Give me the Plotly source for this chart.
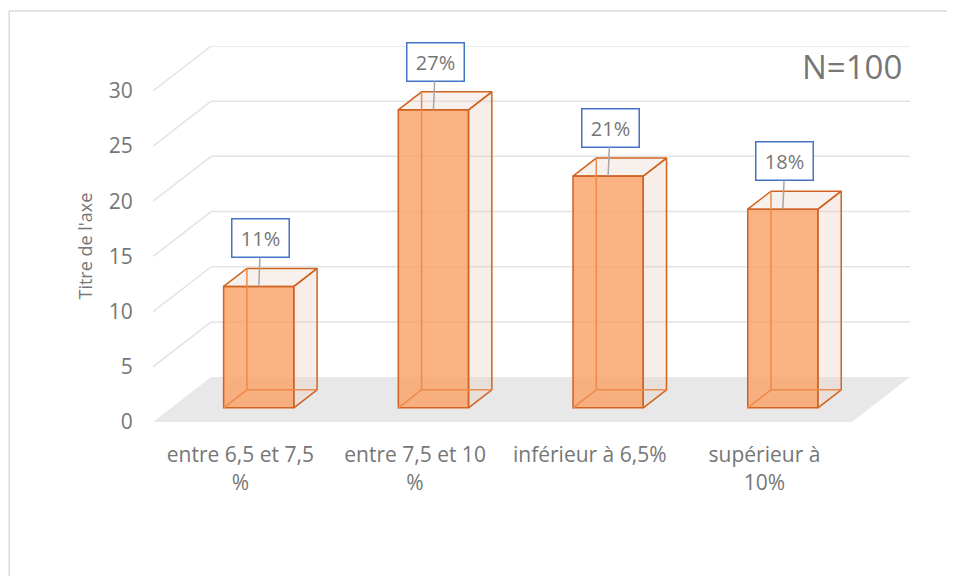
import plotly.graph_objects as go

categories = ["entre 6,5 et 7,5<br>%", "entre 7,5 et 10<br>%", "inférieur à 6,5%", "supérieur à<br>10%"]
counts = [11, 27, 21, 18]
y_ticks = [0, 5, 10, 15, 20, 25, 30]
n_total = 100

# Fake 3D depth (data units)
DEPTH_X = 0.333   # depth of the floor along x (category units)
DEPTH_Y = 4.07    # depth of the floor along y (value units)
FRONT = 0.316     # front face of the bars, fraction of depth
BACK = 0.716      # back face of the bars, fraction of depth
BAR_W = 0.402

EDGE = '#D0631F'
TEXT = '#767676'

def draw_walls(n_cat: int, ticks: list) -> list[dict]:
    x0, x1 = -0.5, n_cat - 0.5
    shapes = []

    # 1. Floor
    shapes.append(dict(
        type='path', xref='x', yref='y', layer='below',
        path=f"M {x0},0 L {x1},0 L {x1 + DEPTH_X},{DEPTH_Y} L {x0 + DEPTH_X},{DEPTH_Y} Z",
        fillcolor='#E8E8E8', line=dict(width=0)
    ))

    # 2. Side wall + back wall grid
    for t in ticks[1:]:
        shapes.append(dict(
            type='line', xref='x', yref='y', layer='below',
            x0=x0, y0=t, x1=x0 + DEPTH_X, y1=t + DEPTH_Y,
            line=dict(color='#E3E3E3', width=1.5)
        ))
        shapes.append(dict(
            type='line', xref='x', yref='y', layer='below',
            x0=x0 + DEPTH_X, y0=t + DEPTH_Y, x1=x1 + DEPTH_X, y1=t + DEPTH_Y,
            line=dict(color='#E3E3E3', width=1.5)
        ))

    # chart area border
    shapes.append(dict(
        type='rect', xref='paper', yref='paper', layer='below',
        x0=-0.19, y0=-0.5, x1=1.2, y1=1.093,
        line=dict(color='#D9D9D9', width=1.5)
    ))
    return shapes

def draw_bar_faces(xs: list, vals: list) -> list[go.Scatter]:
    sx, sy, tx, ty, bx, by = [], [], [], [], [], []
    ddx = (BACK - FRONT) * DEPTH_X
    ddy = (BACK - FRONT) * DEPTH_Y
    for x, v in zip(xs, vals):
        xl, xr = x - BAR_W / 2, x + BAR_W / 2
        yb, yt = FRONT * DEPTH_Y, FRONT * DEPTH_Y + v
        # right side
        sx.extend([xr, xr + ddx, xr + ddx, xr, xr, None])
        sy.extend([yb, yb + ddy, yt + ddy, yt, yb, None])
        # top
        tx.extend([xl, xr, xr + ddx, xl + ddx, xl, None])
        ty.extend([yt, yt, yt + ddy, yt + ddy, yt, None])
        # hidden edges, seen through the front face
        bx.extend([xl, xl + ddx, xl + ddx, None, xl + ddx, xr + ddx, None])
        by.extend([yb, yb + ddy, yt + ddy, None, yb + ddy, yb + ddy, None])

    side_trace = go.Scatter(
        x=sx, y=sy, mode='lines', fill='toself',
        fillcolor='rgba(232,205,192,0.35)', line=dict(color=EDGE, width=1.5),
        showlegend=False, hoverinfo='skip'
    )
    top_trace = go.Scatter(
        x=tx, y=ty, mode='lines', fill='toself',
        fillcolor='rgba(232,205,192,0.3)', line=dict(color=EDGE, width=1.5),
        showlegend=False, hoverinfo='skip'
    )
    hidden_trace = go.Scatter(
        x=bx, y=by, mode='lines', line=dict(color='#EE8A4A', width=1.5),
        showlegend=False, hoverinfo='skip'
    )
    return [side_trace, top_trace, hidden_trace]

def create_bar3d_plot(cats: list, vals: list, ticks: list, total: int) -> go.Figure:
    fig = go.Figure()
    xs = [i + FRONT * DEPTH_X for i in range(len(cats))]

    # Front faces of the bars
    fig.add_trace(go.Bar(
        x=xs, y=vals, base=FRONT * DEPTH_Y, width=BAR_W,
        marker=dict(color='rgba(250,160,100,0.8)', line=dict(color=EDGE, width=1.5)),
        showlegend=False, hoverinfo='skip'
    ))
    for trace in draw_bar_faces(xs, vals):
        fig.add_trace(trace)

    # Data labels
    for x, v in zip(xs, vals):
        fig.add_annotation(
            x=x, y=FRONT * DEPTH_Y + v, text=f"{round(100 * v / total)}%",
            showarrow=True, arrowhead=0, arrowwidth=1.5, arrowcolor='#A6A6A6',
            ax=2, ay=-48, width=53, height=34, borderpad=1.5,
            bgcolor='white', bordercolor='#4472C4', borderwidth=1.5,
            font=dict(size=20, color=TEXT)
        )

    fig.add_annotation(
        x=0.992, y=0.945, xref='paper', yref='paper', xanchor='right', yanchor='middle',
        text=f"N={total}", showarrow=False, font=dict(size=33, color=TEXT)
    )
    fig.add_annotation(
        x=-0.09, y=0.469, xref='paper', yref='paper', xanchor='center', yanchor='middle',
        text="Titre de l'axe", textangle=-90, showarrow=False, font=dict(size=18, color=TEXT)
    )

    fig.update_layout(
        xaxis=dict(
            range=[-0.5, len(cats) - 0.5 + DEPTH_X],
            tickvals=list(range(len(cats))), ticktext=cats,
            ticks='outside', ticklen=14, tickcolor='rgba(0,0,0,0)',
            showgrid=False, zeroline=False, showline=False
        ),
        yaxis=dict(
            range=[0, ticks[-1] + DEPTH_Y], tickvals=ticks,
            ticks='outside', ticklen=15, tickcolor='rgba(0,0,0,0)',
            showgrid=False, zeroline=False, showline=False
        ),
        font=dict(family='Open Sans', size=21, color=TEXT),
        shapes=draw_walls(len(cats), ticks),
        barmode='overlay',
        plot_bgcolor='white', paper_bgcolor='white',
        margin=dict(l=145, r=45, b=154, t=38),  # page body adds 8px
        width=947, height=568
    )

    return fig

fig = create_bar3d_plot(categories, counts, y_ticks, n_total)
fig.write_html("out.html")
